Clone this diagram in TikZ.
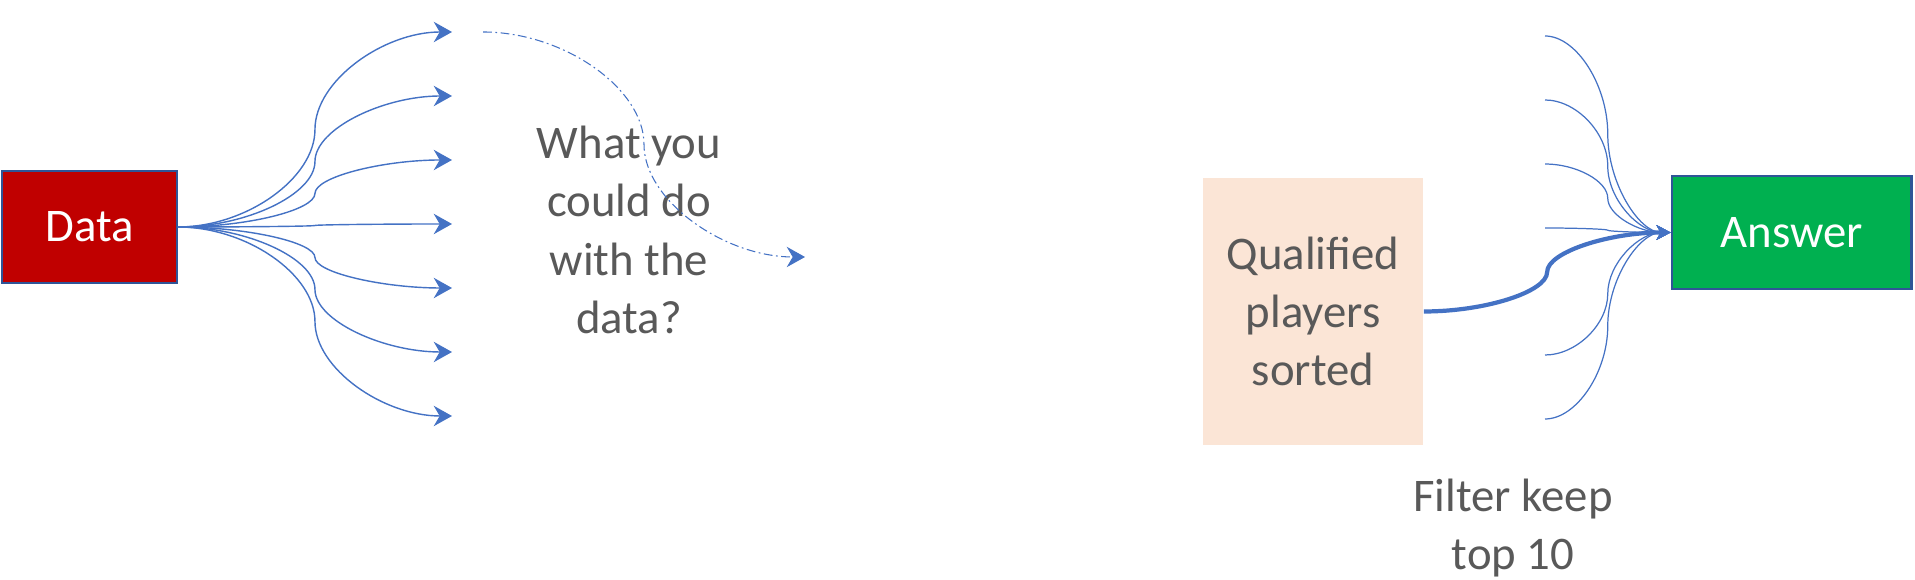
\documentclass[tikz,border=0pt]{standalone}
\usepackage{fontspec}
\setmainfont{Carlito}
\usetikzlibrary{arrows.meta, calc}
\newcommand{\slidefont}{\fontsize{13.3}{16.6}\selectfont}
\definecolor{datared}{RGB}{192,0,0}
\definecolor{answergreen}{RGB}{0,176,80}
\definecolor{qualpeach}{RGB}{251,229,214}
\definecolor{edgeblue}{RGB}{47,85,151}
\definecolor{flowblue}{RGB}{68,114,196}
\definecolor{txtgray}{RGB}{89,89,89}
\tikzstyle{every block} = [font=\slidefont, inner sep=0pt]
\tikzstyle{block} = [draw=edgeblue, line width=0.5pt, every block]
\tikzstyle{words} = [text=txtgray, font=\slidefont, align=center, inner sep=0pt]
% curved connector: horizontal out, vertical in the middle, horizontal in
\tikzset{
  elbow/.style={to path={let \p1=(\tikztostart), \p2=(\tikztotarget) in
    .. controls ({0.75*\x1+0.25*\x2},\y1) and ({0.5*\x1+0.5*\x2},{0.75*\y1+0.25*\y2})
    .. ({0.5*\x1+0.5*\x2},{0.5*\y1+0.5*\y2})
    .. controls ({0.5*\x1+0.5*\x2},{0.25*\y1+0.75*\y2}) and ({0.25*\x1+0.75*\x2},\y2)
    .. (\tikztotarget)}}
}

\begin{document}
\begin{tikzpicture}[x=0.01cm, y=-0.01cm]
  \useasboundingbox (0,0) rectangle (1915,580);
  \tikzstyle{fan} = [draw=flowblue, line width=0.4pt, -{Stealth[length=5.2pt, width=5.8pt, inset=1.7pt]}]
  \tikzstyle{fanin} = [draw=flowblue, line width=0.35pt, -{Stealth[length=4pt, width=4.2pt, inset=1.2pt]}]

  % left: data and what could be done
  \node[block, fill=datared, text=white, minimum width=1.75cm, minimum height=1.12cm] (data) at (89.5,227) {Data};
  \foreach \i/\y in {1/32,2/96,3/160,4/224,5/288,6/352,7/416}
    \coordinate (d\i) at (452,\y);
  \foreach \i in {1,...,7}
    \draw[fan] (data.east) to[elbow] (d\i);

  \node[words] (what) at (629,230) {What you\\could do\\with the\\data?};
  \coordinate (w1) at (483,32);
  \coordinate (w2) at (805,257);
  \draw[fan, line width=0.3pt, dash pattern=on 2.5pt off 1pt on 0.5pt off 1pt] (w1) to[elbow] (w2);

  % right: qualified players to answer
  \node[words, fill=qualpeach, minimum width=2.2cm, minimum height=2.67cm] (qual) at (1313,311.5) {Qualified\\players\\sorted};
  \node[block, fill=answergreen, text=white, line width=0.8pt, minimum width=2.39cm, minimum height=1.13cm] (answer) at (1791.5,232.5) {Answer};
  \foreach \i/\y in {1/36,2/100,3/164,4/228,5/355,6/419}
    \coordinate (a\i) at (1545,\y);
  \foreach \i in {1,...,6}
    \draw[fanin] (a\i) to[elbow] (answer.west);
  \draw[fanin, line width=1.2pt] (qual.east) to[elbow] (answer.west);

  \node[words] (filter) at (1513,528) {Filter keep\\top 10};
\end{tikzpicture}
\end{document}
